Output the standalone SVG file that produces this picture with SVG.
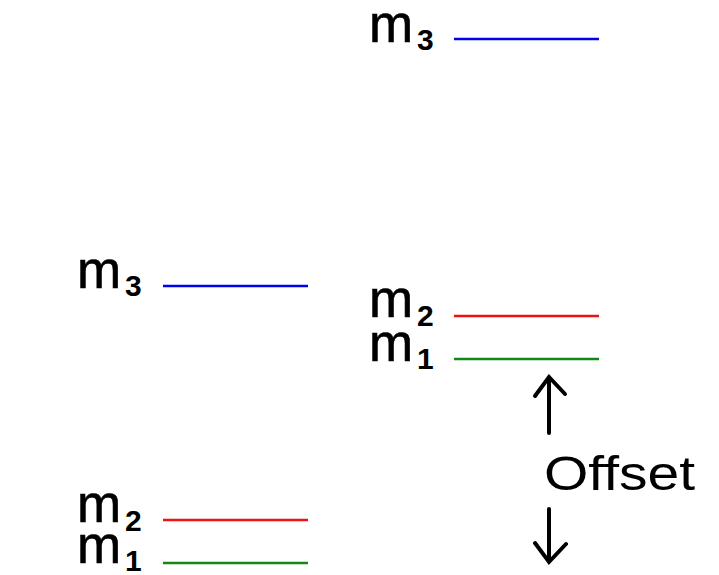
<svg xmlns="http://www.w3.org/2000/svg" width="719" height="575" viewBox="0 0 719 575">
<style>
.lbl{font-family:"Liberation Sans",Arial,sans-serif;font-size:53px;fill:#000;stroke:#000;stroke-width:0.6}
.sub{font-family:"Liberation Sans",Arial,sans-serif;font-size:30px;font-weight:bold;fill:#000}
.off{font-family:"Liberation Sans",Arial,sans-serif;font-size:48px;fill:#000}
.lvl{stroke-width:2.5;fill:none}
.arr{stroke:#000;stroke-width:4;fill:none;stroke-linecap:round}
</style>
<rect width="719" height="575" fill="#fff"/>
<g id="left-m3"><text class="lbl" x="77" y="288">m</text><text class="sub" x="125" y="296">3</text><line class="lvl" x1="163" y1="286" x2="308" y2="286" stroke="#0000ee"/></g>
<g id="left-m2"><text class="lbl" x="77" y="522">m</text><text class="sub" x="125" y="531">2</text><line class="lvl" x1="163" y1="520" x2="308" y2="520" stroke="#ee1111"/></g>
<g id="left-m1"><text class="lbl" x="77" y="563">m</text><text class="sub" x="125" y="571">1</text><line class="lvl" x1="163" y1="563" x2="308" y2="563" stroke="#118811"/></g>
<g id="right-m3"><text class="lbl" x="369" y="42">m</text><text class="sub" x="417" y="50">3</text><line class="lvl" x1="454" y1="39" x2="599" y2="39" stroke="#0000ee"/></g>
<g id="right-m2"><text class="lbl" x="369" y="317">m</text><text class="sub" x="417" y="326">2</text><line class="lvl" x1="454" y1="316" x2="599" y2="316" stroke="#ee1111"/></g>
<g id="right-m1"><text class="lbl" x="369" y="361">m</text><text class="sub" x="417" y="369">1</text><line class="lvl" x1="454" y1="359" x2="599" y2="359" stroke="#118811"/></g>
<g id="offset"><text class="off" x="544" y="490" textLength="151" lengthAdjust="spacingAndGlyphs">Offset</text></g>
<g id="connectors">
<path class="arr" d="M549 433 V377 M535 396 L549 377 L565 394"/>
<path class="arr" d="M549 509 V562 M535 543 L549 562 L566 544"/>
</g>
</svg>
